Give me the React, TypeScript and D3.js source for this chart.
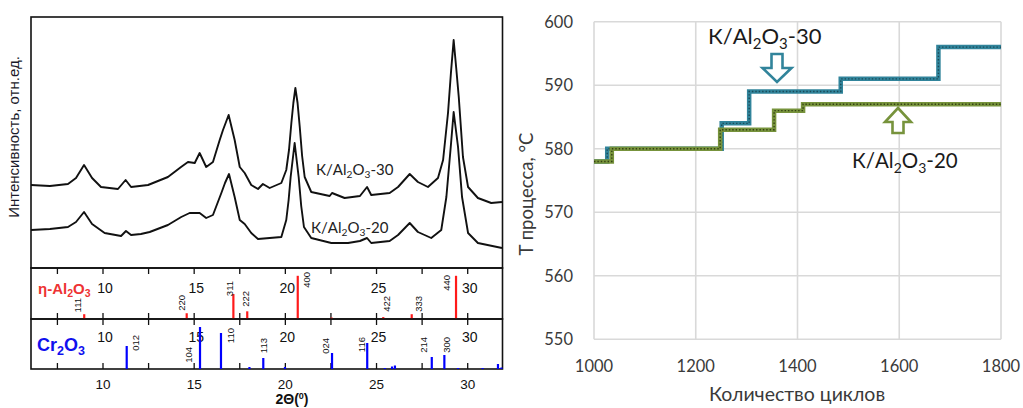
import React from 'react';
import * as d3 from 'd3';

// ---- XRD (left) ----
const thetaMajor = [10, 15, 20, 25, 30];
const thetaMinor = [7.5, 12.5, 17.5, 22.5, 27.5];

// [2θ, intensity]
const trace30: [number, number][] = [
  [6.05, 83], [7.09, 82], [8.08, 84], [8.52, 90], [8.96, 103], [9.4, 90], [9.89, 81],
  [10.82, 79], [11.24, 88], [11.54, 81], [12.47, 83], [13.56, 91], [14.28, 101],
  [14.66, 106], [15.03, 105], [15.3, 115], [15.66, 101], [16.03, 106], [16.4, 128],
  [16.58, 138], [16.89, 153], [17.22, 128], [17.5, 101], [17.77, 95], [18.13, 83],
  [18.5, 79], [18.77, 84], [19.14, 80], [19.78, 85], [20.05, 98], [20.2, 118],
  [20.33, 145], [20.44, 165], [20.55, 180], [20.67, 165], [20.79, 141], [20.92, 112],
  [21.06, 91], [21.42, 76], [22.43, 72], [22.56, 75], [23.25, 70], [24.09, 72],
  [24.48, 81], [24.71, 73], [25.72, 75], [26.18, 81], [26.82, 94], [27.27, 86],
  [27.82, 81], [28.37, 90], [28.65, 108], [28.92, 155], [29.08, 195], [29.23, 228],
  [29.37, 200], [29.51, 171], [29.74, 111], [30.02, 81], [30.56, 70], [31.29, 65],
  [31.88, 66],
];
const trace20: [number, number][] = [
  [6.05, 38], [7.09, 39], [8.08, 41], [8.52, 46], [8.96, 56], [9.4, 44], [10.09, 35],
  [10.99, 32], [11.26, 37], [11.54, 33], [12.08, 34], [12.56, 36], [13.56, 43],
  [14.29, 51], [14.75, 55], [15.3, 55], [15.66, 50], [16.03, 53], [16.49, 75],
  [16.69, 85], [16.91, 94], [17.22, 71], [17.5, 48], [17.77, 44], [18.13, 35],
  [18.5, 29], [19.14, 30], [19.78, 31], [20.05, 48], [20.18, 68], [20.29, 91],
  [20.51, 125], [20.73, 91], [20.87, 62], [21.02, 41], [21.42, 30], [22.52, 25],
  [23.44, 25], [24.09, 27], [24.48, 30], [24.71, 25], [25.72, 27], [26.18, 33],
  [26.82, 45], [27.27, 36], [28.0, 30], [28.55, 38], [28.83, 71], [29.07, 121],
  [29.23, 156], [29.47, 121], [29.69, 71], [30.02, 35], [30.56, 25], [31.88, 20],
];

const etaPos = [8.97, 14.59, 17.15, 17.91, 20.68, 22.54, 25.37, 26.93, 29.36];
const etaInt = [10, 12, 52, 16, 90, 3, 4, 10, 90];
const etaHkl = ['111', '220', '311', '222', '400', '', '422', '333', '440'];

const crPos = [11.3, 15.32, 16.47, 18.03, 18.79, 19.98, 22.56, 24.49, 25.46, 25.85, 26.01, 28.03, 28.72, 29.47, 30.82, 31.66, 31.85];
const crInt = [46, 84, 72, 4, 22, 4, 32, 52, 2, 5, 7, 24, 28, 2, 2, 10, 3];
const crHkl = ['012', '104', '110', '', '113', '', '024', '116', '', '', '', '214', '300', '', '', '', ''];

// label placement: [dx from bar, top offset from panel top]
const etaLabelPos: Record<string, [number, number]> = {
  '111': [-7, 30], '220': [-5, 27], '311': [-4, 13], '222': [-2, 23],
  '400': [9, 4], '422': [3, 28], '333': [6.5, 28], '440': [-9.5, 7],
};
const crLabelPos: Record<string, [number, number]> = {
  '012': [9, 16], '104': [-12, 28], '110': [10, 9], '113': [0, 19],
  '024': [-7, 19], '116': [-6, 18], '214': [-8.5, 18], '300': [2.5, 18],
};

// ---- Temperature steps (right) ----
const cycleTicks = [1000, 1200, 1400, 1600, 1800];
const tempTicks = [550, 560, 570, 580, 590, 600];
const steps30: [number, number][] = [
  [1000, 578], [1026, 580], [1251, 584], [1305, 589], [1485, 591], [1677, 596], [1800, 596],
];
const steps20: [number, number][] = [
  [1000, 578], [1035, 580], [1248, 583], [1354, 586], [1411, 587], [1800, 587],
];

const FONT_L = '"Liberation Sans", Arial, sans-serif';
const FONT_R = 'Lato, "Open Sans", sans-serif';

const Chem = ({ x, y, pre, post, size, fill, anchor = 'start', weight = 'normal', family }: any) => (
  <text x={x} y={y} fontSize={size} fill={fill} textAnchor={anchor} fontWeight={weight} fontFamily={family}>
    {pre}Al<tspan fontSize={size * 0.68} dy={size * 0.22}>2</tspan>
    <tspan dy={-size * 0.22}>O</tspan>
    <tspan fontSize={size * 0.68} dy={size * 0.22}>3</tspan>
    <tspan dy={-size * 0.22}>{post}</tspan>
  </text>
);

const XRD = () => {
  const left = 31, right = 502.5;
  const mainTop = 17, mainBot = 268;
  const etaTop = 268, etaBot = 319;
  const crTop = 319, crBot = 369;

  const x = d3.scaleLinear().domain([10, 30]).range([103, 467.7]);
  const y = d3.scaleLinear().domain([0, 250]).range([mainBot, mainTop + 1]);
  const yEta = d3.scaleLinear().domain([0, 100]).range([etaBot, etaBot - 48]);
  const yCr = d3.scaleLinear().domain([0, 100]).range([crBot, crBot - 50]);

  const line = d3.line<[number, number]>().x(d => x(d[0])).y(d => y(d[1]));
  const allTicks = [...thetaMinor, ...thetaMajor];
  const tickLen = 6;

  const subTicks = (top: number, bot: number) =>
    allTicks.map(t => (
      <g key={`${top}-${t}`}>
        <line x1={x(t)} x2={x(t)} y1={top} y2={top + tickLen} stroke="#111" strokeWidth={1.3} />
        <line x1={x(t)} x2={x(t)} y1={bot} y2={bot - tickLen} stroke="#111" strokeWidth={1.3} />
      </g>
    ));

  const hklLabel = (hkl: string, px: number, panelTop: number, pos: Record<string, [number, number]>) => {
    const p = pos[hkl];
    if (!p) return null;
    const cx = x(px) + p[0] + 3.5;
    const ty = panelTop + p[1];
    return (
      <text key={hkl} transform={`translate(${cx},${ty}) rotate(-90)`} textAnchor="end"
        fontSize={9.5} fontFamily={FONT_L} fill="#111">{hkl}</text>
    );
  };

  return (
    <g>
      {/* main panel */}
      <rect x={left} y={mainTop} width={right - left} height={mainBot - mainTop} fill="none" stroke="#111" strokeWidth={1.6} />
      <path d={line(trace30) || ''} fill="none" stroke="#111" strokeWidth={1.9} strokeLinejoin="round" />
      <path d={line(trace20) || ''} fill="none" stroke="#111" strokeWidth={1.9} strokeLinejoin="round" />
      <Chem x={316} y={175} pre="К/" post="-30" size={15} fill="#222" family={FONT_R} />
      <Chem x={311} y={233} pre="К/" post="-20" size={15} fill="#222" family={FONT_R} />
      <text transform="translate(19,137) rotate(-90)" textAnchor="middle" fontSize={15} fontFamily={FONT_L} fill="#1a1a2a">
        Интенсивность, отн.ед.
      </text>

      {/* eta-Al2O3 panel */}
      <rect x={left} y={etaTop} width={right - left} height={etaBot - etaTop} fill="none" stroke="#111" strokeWidth={1.6} />
      {subTicks(etaTop, etaBot)}
      {thetaMajor.map(t => (
        <text key={`e${t}`} x={x(t) + 2} y={etaTop + 25} textAnchor="middle" fontSize={14} fontFamily={FONT_L} fill="#111">{t}</text>
      ))}
      {etaPos.map((p, i) => (
        <line key={`eb${i}`} x1={x(p)} x2={x(p)} y1={yEta(0)} y2={yEta(etaInt[i])} stroke="#ff1a1a" strokeWidth={2.2} />
      ))}
      {etaHkl.map((h, i) => hklLabel(h, etaPos[i], etaTop, etaLabelPos))}
      <text x={38} y={294} fontSize={15} fontWeight="bold" fontFamily={FONT_L} fill="#ee3333">
        η-Al<tspan fontSize={10.5} dy={3}>2</tspan><tspan dy={-3}>O</tspan><tspan fontSize={10.5} dy={3}>3</tspan>
      </text>

      {/* Cr2O3 panel */}
      <rect x={left} y={crTop} width={right - left} height={crBot - crTop} fill="none" stroke="#111" strokeWidth={1.6} />
      {subTicks(crTop, crBot)}
      {thetaMajor.map(t => (
        <text key={`c${t}`} x={x(t) + 2} y={crTop + 23} textAnchor="middle" fontSize={14} fontFamily={FONT_L} fill="#111">{t}</text>
      ))}
      {crPos.map((p, i) => (
        <line key={`cb${i}`} x1={x(p)} x2={x(p)} y1={yCr(0)} y2={yCr(crInt[i])} stroke="#0000ff" strokeWidth={2.2} />
      ))}
      {crHkl.map((h, i) => hklLabel(h, crPos[i], crTop, crLabelPos))}
      <text x={37} y={351} fontSize={18} fontWeight="bold" fontFamily={FONT_L} fill="#1010ee">
        Cr<tspan fontSize={12.5} dy={4}>2</tspan><tspan dy={-4}>O</tspan><tspan fontSize={12.5} dy={4}>3</tspan>
      </text>

      {/* bottom axis */}
      {thetaMajor.map(t => (
        <text key={`b${t}`} x={x(t)} y={389} textAnchor="middle" fontSize={13.5} fontFamily={FONT_L} fill="#111">{t}</text>
      ))}
      <text x={292} y={404} textAnchor="middle" fontSize={14} fontWeight="bold" fontFamily={FONT_L} fill="#111">
        2Θ(<tspan fontSize={9} dy={-5}>0</tspan><tspan dy={5}>)</tspan>
      </text>
    </g>
  );
};

const downArrow = (cx: number, top: number, neck: number, tip: number, shaftW: number, headW: number) =>
  `M${cx - shaftW / 2},${top} H${cx + shaftW / 2} V${neck} H${cx + headW / 2} L${cx},${tip} L${cx - headW / 2},${neck} H${cx - shaftW / 2} Z`;
const upArrow = (cx: number, tip: number, neck: number, bottom: number, shaftW: number, headW: number) =>
  `M${cx},${tip} L${cx + headW / 2},${neck} H${cx + shaftW / 2} V${bottom} H${cx - shaftW / 2} V${neck} H${cx - headW / 2} Z`;

const Steps = () => {
  const x = d3.scaleLinear().domain([1000, 1800]).range([594, 1001]);
  const y = d3.scaleLinear().domain([550, 600]).range([339.3, 21.7]);
  const line = d3.line<[number, number]>().x(d => x(d[0])).y(d => y(d[1])).curve(d3.curveStepAfter);
  const grid = '#d9d9d9';

  // green drawn last, it lies on top of the blue one where they coincide
  const series = [
    { data: steps30, color: '#31849b', dot: '#173f4a' },
    { data: steps20, color: '#77933c', dot: '#27330c' },
  ];

  return (
    <g fontFamily={FONT_R}>
      {tempTicks.map(t => (
        <line key={`gy${t}`} x1={x(1000)} x2={x(1800)} y1={y(t)} y2={y(t)} stroke={grid} strokeWidth={1.6} />
      ))}
      {cycleTicks.map(c => (
        <line key={`gx${c}`} x1={x(c)} x2={x(c)} y1={y(550)} y2={y(600)} stroke={grid} strokeWidth={1.6} />
      ))}
      {tempTicks.map(t => (
        <text key={`ty${t}`} x={573} y={y(t) + 6} textAnchor="end" fontSize={16.5} fill="#3a3a3a">{t}</text>
      ))}
      {cycleTicks.map(c => (
        <text key={`tx${c}`} x={x(c)} y={371.5} textAnchor="middle" fontSize={16.5} fill="#3a3a3a">{c}</text>
      ))}
      <text x={797} y={401} textAnchor="middle" fontSize={19.5} fill="#3a3a3a">Количество циклов</text>
      <text transform="translate(533,194) rotate(-90)" textAnchor="middle" fontSize={18.5} fill="#3a3a3a">T процесса, °С</text>

      {series.map((s, i) => (
        <g key={i}>
          <path d={line(s.data) || ''} fill="none" stroke={s.color} strokeWidth={4.5} />
          <path d={line(s.data) || ''} fill="none" stroke={s.dot} strokeWidth={1.4} strokeDasharray="1.4 2" opacity={0.85} />
        </g>
      ))}

      <Chem x={708} y={44} pre="К/" post="-30" size={22} fill="#1a1a1a" family={FONT_R} />
      <path d={downArrow(777, 54, 68, 82, 11, 29)} fill="#fff" stroke="#31849b" strokeWidth={2.6} strokeLinejoin="miter" />
      <path d={upArrow(898, 108, 122, 133, 11, 26)} fill="#fff" stroke="#77933c" strokeWidth={2.6} strokeLinejoin="miter" />
      <Chem x={852} y={168} pre="К/" post="-20" size={20.5} fill="#1a1a1a" family={FONT_R} />
    </g>
  );
};

const App = () => (
  <svg width={1023} height={408} style={{ position: 'absolute', left: 0, top: 0, background: '#fff' }}>
    <rect width={1023} height={408} fill="#fff" />
    <XRD />
    <Steps />
  </svg>
);

export default App;
